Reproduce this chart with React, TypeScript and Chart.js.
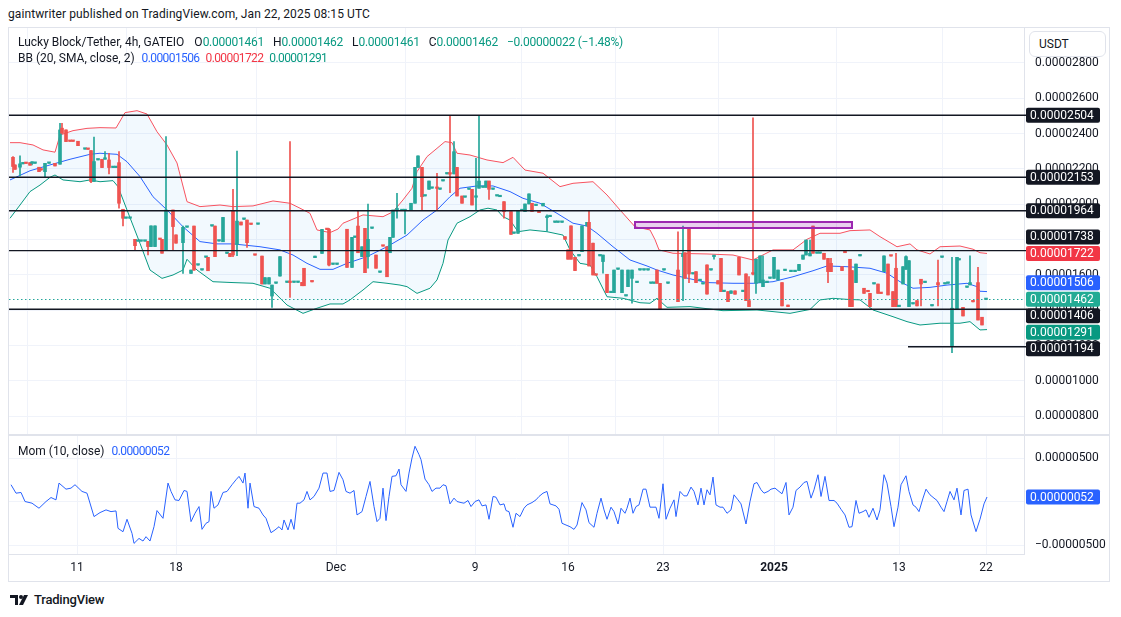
import React, { useEffect, useRef } from "react";
import { Chart, registerables } from "chart.js";
Chart.register(...registerables);

const FONT = "Roboto, 'Noto Sans', Arial, sans-serif";
const UP = "#26a69a";
const DOWN = "#ef5350";
const INK = "#131722";
const GRID = "#f0f3fa";
const BORDER = "#e0e3eb";
const BLUE = "#2962ff";
const RED_LBL = "#f23645";
const TEAL_VAL = "#089981";

// x = bar slot (time position on the chart), prices in units of 1e-8 USDT
const timeTickSlots = [68, 167, 327, 466, 559, 654, 765, 890, 977];
const timeTickLabels = ["11", "18", "Dec", "9", "16", "23", "2025", "13", "22"];
const priceTicks = [800, 1000, 1200, 1400, 1600, 1800, 2000, 2200, 2400, 2600, 2800];
const momTicks = [-500, 0, 500];

// [slot, open, high, low, close]
const candles: number[][] = [
  [4,2266,2270,2180,2214],[6,2223,2223,2198,2198],[11,2210,2274,2161,2229],[14,2229,2229,2229,2229],
  [17,2232,2232,2231,2231],[21,2236,2236,2221,2221],[23,2232,2242,2223,2232],[26,2232,2232,2232,2232],
  [30,2210,2210,2185,2185],[32,2195,2195,2194,2194],[36,2185,2232,2157,2232],[40,2232,2232,2232,2232],
  [46,2232,2232,2217,2217],[51,2227,2459,2227,2421],[53,2431,2459,2402,2402],[57,2421,2421,2355,2355],
  [61,2357,2357,2356,2356],[64,2357,2357,2356,2356],[69,2357,2357,2332,2332],[76,2312,2312,2312,2312],
  [79,2312,2312,2311,2311],[82,2304,2304,2123,2129],[85,2129,2380,2129,2242],[89,2251,2251,2251,2251],
  [93,2255,2255,2208,2208],[96,2255,2299,2255,2255],[100,2251,2289,2172,2208],[104,2208,2208,2208,2208],
  [107,2208,2208,2208,2208],[110,2236,2299,1978,2006],[114,1972,1972,1878,1921],[117,1921,1921,1921,1921],
  [121,1921,1921,1921,1921],[126,1802,1802,1742,1766],[129,1791,1791,1791,1791],[132,1791,1791,1791,1791],
  [136,1791,1791,1791,1791],[139,1791,1791,1714,1761],[142,1761,1878,1761,1878],[146,1761,1878,1761,1878],
  [151,1802,1802,1801,1801],[153,1802,1802,1723,1723],[157,1742,2383,1742,1968],[164,1968,1968,1742,1874],
  [167,1827,1827,1780,1780],
  [174,1783,1877,1609,1870],[178,1870,1870,1870,1870],[182,1609,1628,1609,1628],[185,1877,1877,1626,1628],
  [189,1656,1656,1656,1656],[193,1628,1628,1628,1628],[197,1700,1700,1700,1700],[199,1700,1700,1624,1624],
  [203,1877,1877,1877,1877],[206,1877,1877,1704,1704],[210,1792,1792,1792,1792],[214,1788,1926,1788,1926],
  [218,1722,1722,1722,1722],[221,1722,1722,1704,1704],[224,1964,2085,1704,1713],[228,1773,2302,1709,1905],
  [232,1900,1900,1883,1883],[235,1915,1915,1915,1915],[238,1911,1911,1756,1783],[242,1887,1887,1886,1886],
  [246,1713,1713,1712,1712],[249,1887,1887,1887,1887],[253,1707,1707,1549,1549],[256,1549,1585,1549,1585],
  [260,1549,1585,1549,1585],[263,1481,1543,1417,1543],[267,1553,1553,1553,1553],[271,1594,1704,1594,1704],
  [278,1558,1558,1558,1558],[281,1558,2355,1473,1557],[285,1558,1558,1558,1558],[289,1558,1558,1558,1558],
  [293,1558,1558,1539,1539],[295,1638,1638,1539,1539],[303,1562,1562,1561,1561],[306,1698,1707,1698,1707],
  [313,1722,1858,1722,1858],[318,1858,1858,1857,1857],[320,1858,1864,1651,1656],[324,1660,1660,1660,1660],
  [328,1660,1660,1660,1660],
  [338,1859,1859,1643,1643],[343,1643,1813,1643,1813],[346,1813,1813,1813,1813],[349,1877,1964,1726,1726],
  [353,1704,1760,1704,1760],[356,1864,1864,1613,1613],[359,1704,2002,1638,1802],[363,1864,1864,1864,1864],
  [367,1713,1713,1638,1638],[371,1615,1615,1615,1615],[374,1764,1764,1763,1763],[378,1760,1760,1590,1590],
  [381,1726,1813,1726,1813],[384,1813,1968,1813,1968],[388,1968,2062,1921,1968],[393,1964,1964,1964,1964],
  [396,1964,1964,1832,1964],[402,1964,2006,1964,2006],[406,2006,2209,2006,2209],[409,2209,2274,2209,2274],
  [413,2209,2209,1964,2043],[416,2047,2047,2047,2047],[420,2085,2132,2085,2132],[423,2091,2091,2091,2091],
  [428,2091,2175,1964,2090],[431,2085,2085,2085,2085],[434,2132,2132,2132,2132],[438,2172,2172,2172,2172],
  [441,2172,2500,2066,2171],[445,2172,2355,2172,2298],[448,2209,2209,2047,2047],[453,2047,2047,2006,2006],
  [456,2040,2040,2040,2040],[460,2085,2085,2085,2085],[463,2085,2085,1996,1996],[467,2040,2260,1968,2040],
  [470,2091,2500,2091,2132],[474,2096,2096,2096,2096],[477,2096,2132,2096,2132],[480,2132,2132,2028,2085],
  [484,2085,2085,2085,2085],[488,2047,2047,2047,2047],[491,2043,2043,2043,2043],[495,2015,2015,1921,1958],
  [502,1959,1959,1830,1830],[505,1836,1836,1836,1836],[509,1836,1964,1836,1964],[513,1964,1964,1964,1964],
  [516,1959,2002,1959,2002],[520,2002,2059,2002,2059],[523,2006,2006,1959,1959],[527,1993,1993,1993,1993],
  [530,1963,1963,1953,1953],[534,1991,2006,1991,2006],[538,1925,1940,1846,1925],[541,1930,1930,1930,1930],
  [546,1898,1898,1898,1898],[549,1898,1898,1898,1898],[553,1898,1898,1898,1898],[556,1817,1817,1802,1802],
  [559,1742,1742,1689,1689],[562,1878,1878,1689,1689],[566,1700,1700,1625,1625],[570,1708,1708,1708,1708],
  [573,1732,1878,1732,1878],[578,1878,1898,1878,1898],[580,1898,1964,1651,1651],[584,1780,1780,1600,1600],
  [587,1600,1600,1599,1599],[591,1708,1708,1708,1708],[594,1676,1713,1610,1713],[598,1604,1604,1500,1500],
  [602,1500,1500,1500,1500],[605,1500,1628,1500,1628],[609,1632,1632,1632,1632],[613,1500,1628,1500,1628],
  [617,1481,1481,1481,1481],[619,1534,1628,1534,1628],[623,1581,1628,1440,1628],[628,1557,1557,1557,1557],
  [631,1628,1628,1628,1628],[635,1628,1628,1628,1628],[639,1628,1628,1628,1628],[642,1553,1553,1553,1553],
  [645,1553,1553,1553,1553],[648,1628,1628,1553,1553],[651,1553,1553,1406,1406],[655,1628,1628,1628,1628],
  [659,1553,1553,1553,1553],
  [669,1628,1845,1449,1449],[674,1704,1877,1455,1723],[676,1726,1726,1581,1581],[680,1864,1864,1557,1606],
  [684,1606,1606,1606,1606],[687,1619,1619,1557,1557],[691,1568,1568,1568,1568],[694,1549,1549,1549,1549],
  [698,1657,1657,1492,1492],[702,1628,1628,1628,1628],[705,1704,1704,1689,1704],[709,1568,1568,1549,1549],
  [712,1694,1694,1506,1506],[715,1506,1506,1506,1506],[719,1506,1506,1449,1449],[722,1496,1510,1496,1510],
  [726,1510,1510,1491,1491],[730,1700,1700,1600,1600],[734,1506,1506,1506,1506],[737,1606,1606,1455,1455],
  [740,1455,1591,1421,1421],[744,1606,2489,1600,1605],[747,1553,1689,1496,1689],[751,1557,1708,1557,1708],
  [754,1534,1708,1534,1572],[758,1557,1557,1557,1557],[761,1581,1581,1581,1581],[765,1581,1700,1581,1700],
  [769,1572,1628,1572,1628],[773,1557,1557,1425,1425],[776,1625,1625,1625,1625],[779,1430,1430,1421,1421],
  [782,1619,1619,1619,1619],[786,1619,1619,1619,1619],[790,1625,1660,1625,1660],[794,1689,1713,1689,1713],
  [797,1713,1798,1713,1798],[801,1708,1798,1708,1723],[804,1877,1877,1723,1723],[808,1723,1723,1723,1723],
  [811,1723,1723,1723,1723],[815,1723,1723,1689,1689],[819,1694,1694,1557,1619],[822,1666,1694,1619,1619],
  [833,1647,1647,1625,1625],[836,1727,1727,1726,1726],[841,1689,1689,1421,1421],[843,1625,1625,1421,1421],
  [847,1557,1662,1557,1662],[851,1708,1708,1708,1708],[855,1525,1525,1496,1496],[859,1506,1506,1505,1505],
  [861,1496,1496,1421,1421],[865,1549,1549,1549,1549],[869,1549,1549,1496,1496],[872,1496,1496,1495,1495],
  [875,1619,1708,1619,1708],[879,1662,1662,1487,1487],[882,1708,1708,1707,1707],[884,1506,1506,1421,1421],
  [887,1638,1723,1421,1421],[890,1421,1421,1421,1421],[894,1549,1647,1549,1647],[897,1632,1708,1632,1704],
  [900,1421,1681,1421,1681],[904,1436,1436,1436,1436],[908,1455,1455,1425,1425],[912,1576,1576,1425,1549],
  [916,1557,1557,1557,1557],[923,1425,1425,1425,1425],[929,1557,1685,1425,1544],[933,1700,1700,1700,1700],
  [936,1549,1549,1549,1549],[939,1553,1553,1553,1553],[943,1195,1700,1161,1412],[948,1406,1700,1406,1700],
  [950,1685,1685,1685,1685],[954,1417,1417,1368,1368],[958,1530,1530,1530,1530],[961,1544,1708,1544,1557],
  [964,1449,1449,1448,1448],[969,1557,1644,1345,1345],[973,1361,1361,1317,1317],[977,1461,1462,1461,1462],
];

// Bollinger Bands (20, SMA, close, 2): [slot, value]
const bbUpper: number[][] = [
  [1,2349],[11,2349],[24,2336],[34,2308],[46,2295],[51,2392],[64,2417],[78,2430],[91,2434],[107,2432],
  [116,2519],[128,2530],[138,2511],[148,2411],[158,2336],[168,2234],[178,2015],[191,1987],[211,1996],
  [224,1987],[244,1991],[264,2019],[281,2006],[291,1978],[301,1949],[308,1855],[321,1840],[329,1860],
  [334,1893],[354,1940],[374,1930],[384,1958],[394,2025],[403,2091],[408,2185],[418,2270],[428,2317],
  [436,2355],[443,2349],[448,2289],[461,2279],[478,2251],[494,2236],[504,2266],[516,2194],[534,2176],
  [551,2100],[564,2119],[584,2128],[598,2053],[611,1968],[626,1873],[641,1855],[646,1800],[650,1742],
  [664,1723],[698,1719],[724,1713],[744,1685],[764,1742],[784,1742],[798,1802],[811,1836],[831,1836],
  [841,1851],[861,1855],[871,1817],[888,1760],[901,1776],[908,1742],[921,1719],[931,1760],[951,1764],
  [964,1746],[971,1726],[978,1722],
];
const bbBasis: number[][] = [
  [1,2138],[21,2190],[41,2223],[61,2255],[81,2283],[91,2289],[108,2283],[118,2241],[131,2157],[144,2043],
  [158,1968],[174,1873],[191,1789],[208,1776],[224,1776],[251,1760],[271,1742],[284,1713],[298,1666],
  [311,1632],[324,1632],[338,1666],[358,1704],[378,1760],[398,1826],[414,1911],[428,1968],[441,2043],
  [451,2091],[468,2104],[484,2104],[501,2072],[514,2034],[531,2006],[548,1949],[564,1893],[578,1877],
  [588,1836],[604,1760],[621,1685],[638,1651],[648,1628],[664,1600],[698,1557],[724,1553],[744,1553],
  [764,1562],[784,1590],[804,1624],[818,1651],[838,1647],[861,1638],[878,1610],[891,1562],[904,1525],
  [921,1530],[938,1543],[958,1553],[968,1534],[971,1508],[978,1506],
];
const bbLower: number[][] = [
  [1,1921],[11,1996],[21,2072],[31,2109],[41,2153],[46,2166],[54,2138],[71,2128],[81,2138],[91,2128],
  [104,2134],[109,2100],[118,1968],[131,1779],[141,1628],[153,1581],[164,1600],[174,1628],[178,1689],
  [188,1628],[204,1562],[224,1557],[244,1553],[261,1525],[278,1430],[294,1383],[308,1412],[321,1436],
  [334,1436],[341,1459],[354,1515],[364,1562],[378,1553],[391,1543],[398,1534],[408,1496],[421,1525],
  [428,1572],[434,1666],[439,1798],[448,1893],[461,1930],[471,1968],[479,1978],[488,1968],[494,1930],
  [501,1911],[509,1845],[521,1855],[538,1845],[554,1826],[561,1742],[571,1666],[581,1657],[588,1590],
  [598,1477],[614,1468],[631,1443],[641,1440],[648,1468],[658,1417],[681,1421],[714,1398],[748,1402],
  [781,1383],[801,1405],[811,1459],[824,1468],[838,1462],[851,1459],[864,1402],[884,1364],[898,1336],
  [911,1317],[931,1327],[951,1327],[961,1336],[971,1289],[978,1291],
];

// Momentum (10, close), units of 1e-8: [slot, value]
const momentum: number[][] = [
  [2,193],[7,96],[12,104],[16,0],[23,-19],[30,-77],[37,0],[42,46],[47,19],[50,212],[57,142],[62,154],[66,193],
  [73,116],[78,96],[85,-173],[91,-127],[97,-96],[102,-116],[107,-108],[109,-308],[114,-347],[118,-204],
  [123,-366],[125,-481],[130,-424],[134,-454],[137,-404],[141,-454],[145,-289],[148,-104],[154,-193],
  [159,212],[162,116],[166,19],[170,12],[175,127],[178,116],[182,-231],[186,-135],[190,-58],[193,-320],
  [197,-250],[200,-231],[202,116],[205,-77],[209,-39],[214,104],[218,116],[223,193],[227,250],[230,289],
  [234,212],[236,327],[239,-77],[241,212],[245,-58],[250,-77],[254,-154],[257,-193],[262,-358],[266,-327],
  [270,-289],[273,-327],[275,-212],[279,-327],[282,-204],[285,-320],[288,-19],[291,-19],[295,19],[298,116],
  [301,19],[305,58],[310,154],[314,327],[318,327],[321,116],[325,127],[330,335],[334,250],[337,116],[341,96],
  [345,127],[348,-154],[353,-116],[357,58],[361,231],[365,-58],[368,-231],[371,-193],[374,154],[377,-219],
  [380,58],[383,289],[387,296],[390,373],[392,193],[397,116],[400,327],[403,500],[406,635],[410,539],
  [412,481],[416,258],[420,193],[423,116],[427,154],[431,154],[434,193],[437,181],[441,-27],[445,39],
  [448,0],[452,-12],[455,-19],[459,12],[462,-58],[466,0],[470,19],[473,-50],[477,-39],[480,-204],[484,58],
  [487,50],[491,-39],[495,-27],[497,-104],[500,-116],[504,-296],[507,-135],[511,-173],[515,-77],[518,-39],
  [523,-12],[527,19],[530,58],[534,96],[538,116],[541,-27],[547,-50],[550,-89],[553,-250],[557,-270],
  [561,-289],[565,-320],[568,-270],[573,-12],[577,-96],[580,-243],[585,-296],[588,-135],[592,39],[595,-96],
  [598,-204],[602,-65],[605,-116],[609,-258],[612,-77],[616,-135],[618,-77],[621,39],[624,-135],[627,-58],
  [630,-39],[634,142],[637,142],[641,-65],[647,-65],[650,-193],[654,204],[657,-204],[661,-77],[665,19],
  [667,-173],[671,116],[675,65],[678,65],[682,166],[685,116],[689,-39],[692,154],[695,-39],[698,135],
  [701,77],[704,281],[707,-39],[711,-65],[714,-65],[718,-135],[722,-96],[725,77],[729,19],[732,-27],
  [737,-258],[741,0],[745,204],[748,219],[752,135],[755,96],[759,116],[762,142],[766,154],[770,116],
  [773,89],[777,219],[780,-154],[784,-65],[787,127],[791,166],[795,219],[798,231],[802,39],[805,135],
  [809,308],[812,58],[816,289],[820,12],[825,12],[828,-19],[832,-89],[836,-154],[840,-296],[843,-289],
  [847,12],[850,-135],[854,-116],[857,-96],[860,-181],[864,-77],[868,-212],[871,-96],[875,308],[878,212],
  [882,-58],[885,-289],[889,-65],[892,193],[897,296],[900,116],[904,-39],[907,-65],[910,-116],[914,39],
  [917,142],[921,77],[925,39],[928,12],[932,-65],[935,-116],[938,0],[941,116],[945,19],[948,154],[952,-154],
  [955,127],[959,142],[962,-154],[967,-346],[971,-204],[975,-27],[978,52],
];

// Drawn horizontal levels and the zone
const levelLines = [2504, 2153, 1964, 1738, 1406];
const supportLevel = 1194;
const supportFromSlot = 899;
const zoneSlots = [626, 843];
const zonePrices = [1866, 1900];

// Last values
const lastOHLC = [1461, 1462, 1461, 1462];
const lastChange = -22;
const lastChangePct = -1.48;
const lastBasis = 1506;
const lastUpper = 1722;
const lastLower = 1291;
const lastMom = 52;

const fmt = (v: number) => (v < 0 ? "\u2212" : "") + (Math.abs(v) / 1e8).toFixed(8);

function drawBox(ctx: CanvasRenderingContext2D, x: number, y: number, w: number, h: number, bg: string, text: string) {
  ctx.fillStyle = bg;
  ctx.beginPath();
  if ((ctx as any).roundRect) (ctx as any).roundRect(x, y - h / 2, w, h, 2);
  else ctx.rect(x, y - h / 2, w, h);
  ctx.fill();
  ctx.fillStyle = "#ffffff";
  ctx.font = `12px ${FONT}`;
  ctx.textAlign = "left";
  ctx.textBaseline = "middle";
  ctx.fillText(text, x + 4, y + 0.5);
}

const zeroVPad = (s: any) => { s.paddingTop = 0; s.paddingBottom = 0; };
const zeroHPad = (s: any) => { s.paddingLeft = 0; s.paddingRight = 0; };

const mainOverlay = {
  id: "mainOverlay",
  afterDatasetsDraw(chart: any) {
    const { ctx, chartArea, scales } = chart;
    const xs = scales.x, ys = scales.y;
    ctx.save();
    const zx0 = xs.getPixelForValue(zoneSlots[0]);
    const zx1 = xs.getPixelForValue(zoneSlots[1]);
    const zy0 = ys.getPixelForValue(zonePrices[1]);
    const zy1 = ys.getPixelForValue(zonePrices[0]);
    ctx.fillStyle = "rgba(156,39,176,0.22)";
    ctx.fillRect(zx0, zy0, zx1 - zx0, zy1 - zy0);
    ctx.strokeStyle = "#9c27b0";
    ctx.lineWidth = 2;
    ctx.strokeRect(zx0, zy0, zx1 - zx0, zy1 - zy0);
    ctx.strokeStyle = INK;
    ctx.lineWidth = 1.4;
    levelLines.forEach((p) => {
      const y = ys.getPixelForValue(p);
      ctx.beginPath();
      ctx.moveTo(chartArea.left, y);
      ctx.lineTo(chartArea.right + 3, y);
      ctx.stroke();
    });
    const sy = ys.getPixelForValue(supportLevel);
    ctx.beginPath();
    ctx.moveTo(xs.getPixelForValue(supportFromSlot), sy);
    ctx.lineTo(chartArea.right + 3, sy);
    ctx.stroke();
    const cy = Math.round(ys.getPixelForValue(lastOHLC[3])) + 0.5;
    ctx.strokeStyle = UP;
    ctx.lineWidth = 1;
    ctx.setLineDash([1.5, 2.5]);
    ctx.beginPath();
    ctx.moveTo(chartArea.left, cy);
    ctx.lineTo(chartArea.right, cy);
    ctx.stroke();
    ctx.restore();
  },
  afterDraw(chart: any) {
    const { ctx, chartArea, scales } = chart;
    const ys = scales.y;
    const labels = [
      ...levelLines.map((v) => ({ v, bg: INK, pin: false })),
      { v: supportLevel, bg: INK, pin: false },
      { v: lastUpper, bg: RED_LBL, pin: true },
      { v: lastBasis, bg: BLUE, pin: false },
      { v: lastOHLC[3], bg: "#22ab94", pin: true },
      { v: lastLower, bg: TEAL_VAL, pin: false },
    ].map((l) => ({ ...l, y: ys.getPixelForValue(l.v) }));
    labels.sort((a, b) => a.y - b.y);
    const H = 16.5;
    for (let it = 0; it < 200; it++) {
      for (let i = 1; i < labels.length; i++) {
        const a = labels[i - 1], b = labels[i];
        const ov = H - (b.y - a.y);
        if (ov > 0.01) {
          if (a.pin && b.pin) continue;
          if (a.pin) b.y += ov;
          else if (b.pin) a.y -= ov;
          else { a.y -= ov / 2; b.y += ov / 2; }
        }
      }
    }
    ctx.save();
    labels.forEach((l) => drawBox(ctx, chartArea.right + 2, l.y, 74, 15, l.bg, fmt(l.v)));
    ctx.restore();
  },
};

const momOverlay = {
  id: "momOverlay",
  afterDraw(chart: any) {
    const { ctx, chartArea, scales } = chart;
    ctx.save();
    drawBox(ctx, chartArea.right + 2, scales.y.getPixelForValue(lastMom), 74, 15, BLUE, fmt(lastMom));
    ctx.restore();
  },
};

const candleColor = (ctx: any) => (ctx.raw && ctx.raw.up ? UP : DOWN);

function mainConfig(): any {
  return {
    type: "bar",
    data: {
      datasets: [
        {
          type: "bar",
          data: candles.map(([s, o, , , c]) => ({ x: s, y: [o, c], up: c >= o })),
          backgroundColor: candleColor,
          barThickness: 3,
          minBarLength: 1.5,
          grouped: false,
          order: 0,
        },
        {
          type: "bar",
          data: candles.map(([s, o, h, l, c]) => ({ x: s, y: [l, h], up: c >= o })),
          backgroundColor: candleColor,
          barThickness: 1,
          grouped: false,
          order: 1,
        },
        {
          type: "line",
          data: bbUpper.map(([x, y]) => ({ x, y })),
          borderColor: "#f7525f",
          borderWidth: 1,
          pointRadius: 0,
          fill: 4,
          backgroundColor: "rgba(33,150,243,0.06)",
          order: 3,
        },
        {
          type: "line",
          data: bbBasis.map(([x, y]) => ({ x, y })),
          borderColor: BLUE,
          borderWidth: 1,
          pointRadius: 0,
          fill: false,
          order: 2,
        },
        {
          type: "line",
          data: bbLower.map(([x, y]) => ({ x, y })),
          borderColor: TEAL_VAL,
          borderWidth: 1,
          pointRadius: 0,
          fill: false,
          order: 2,
        },
      ],
    },
    options: {
      responsive: false,
      animation: false,
      events: [],
      layout: { padding: 0 },
      plugins: { legend: { display: false }, tooltip: { enabled: false } },
      scales: {
        x: {
          type: "linear",
          min: 0,
          max: 1015,
          offset: false,
          ticks: { display: false },
          grid: { color: GRID, drawTicks: false },
          border: { display: false },
          afterBuildTicks: (s: any) => { s.ticks = timeTickSlots.map((v) => ({ value: v })); },
          afterFit: (s: any) => { s.height = 0; zeroHPad(s); },
        },
        y: {
          type: "linear",
          position: "right",
          min: 700,
          max: 2998,
          afterBuildTicks: (s: any) => { s.ticks = priceTicks.map((v) => ({ value: v })); },
          ticks: { callback: (v: any) => fmt(Number(v)), color: INK, font: { size: 12, family: FONT }, padding: 11 },
          grid: { color: GRID, drawTicks: false },
          border: { color: BORDER },
          afterFit: (s: any) => { s.width = 86; zeroVPad(s); },
        },
      },
    },
    plugins: [mainOverlay],
  };
}

function momConfig(): any {
  return {
    type: "line",
    data: {
      datasets: [
        {
          data: momentum.map(([x, y]) => ({ x, y })),
          borderColor: BLUE,
          borderWidth: 1,
          pointRadius: 0,
          fill: false,
        },
      ],
    },
    options: {
      responsive: false,
      animation: false,
      events: [],
      layout: { padding: 0 },
      plugins: { legend: { display: false }, tooltip: { enabled: false } },
      scales: {
        x: {
          type: "linear",
          min: 0,
          max: 1015,
          offset: false,
          afterBuildTicks: (s: any) => { s.ticks = timeTickSlots.map((v) => ({ value: v })); },
          ticks: {
            autoSkip: false,
            maxRotation: 0,
            padding: 7,
            color: INK,
            callback: (v: any) => timeTickLabels[timeTickSlots.indexOf(Number(v))] ?? "",
            font: (c: any) => ({
              size: 12,
              family: FONT,
              weight: c.tick && timeTickLabels[timeTickSlots.indexOf(c.tick.value)] === "2025" ? "bold" : "normal",
            }),
          },
          grid: { color: GRID, drawTicks: false },
          border: { color: BORDER },
          afterFit: (s: any) => { s.height = 28; zeroHPad(s); },
        },
        y: {
          type: "linear",
          position: "right",
          min: -603,
          max: 753,
          afterBuildTicks: (s: any) => { s.ticks = momTicks.map((v) => ({ value: v })); },
          ticks: { callback: (v: any) => (Number(v) === 0 ? "" : fmt(Number(v))), color: INK, font: { size: 12, family: FONT }, padding: 11 },
          grid: { color: GRID, drawTicks: false },
          border: { color: BORDER },
          afterFit: (s: any) => { s.width = 86; zeroVPad(s); },
        },
      },
    },
    plugins: [momOverlay],
  };
}

export default function App() {
  const mainRef = useRef<HTMLCanvasElement>(null);
  const momRef = useRef<HTMLCanvasElement>(null);

  useEffect(() => {
    Chart.defaults.font.family = FONT;
    const c1 = new Chart(mainRef.current as HTMLCanvasElement, mainConfig());
    const c2 = new Chart(momRef.current as HTMLCanvasElement, momConfig());
    return () => {
      c1.destroy();
      c2.destroy();
    };
  }, []);

  const num = { color: TEAL_VAL, letterSpacing: -0.25 };
  const gap = { marginLeft: 9 };
  return (
    <div style={{ position: "fixed", left: 0, top: 0, width: 1121, height: 617, background: "#fff", fontFamily: FONT, color: INK, overflow: "hidden" }}>
      <div style={{ position: "absolute", left: 8, top: 7, fontSize: 12, whiteSpace: "pre", letterSpacing: 0.1 }}>
        gaintwriter published on TradingView.com, Jan 22, 2025 08:15 UTC
      </div>
      <div style={{ position: "absolute", left: 8, top: 27, width: 1102, height: 555, border: `1px solid ${BORDER}`, boxSizing: "border-box" }} />
      <canvas ref={mainRef} width={1101} height={406} style={{ position: "absolute", left: 9, top: 28, width: 1101, height: 406 }} />
      <div style={{ position: "absolute", left: 9, top: 434, width: 1101, height: 2, background: BORDER }} />
      <canvas ref={momRef} width={1101} height={146} style={{ position: "absolute", left: 9, top: 436, width: 1101, height: 146 }} />

      <div style={{ position: "absolute", left: 18, top: 34, fontSize: 12, whiteSpace: "pre", lineHeight: "16px" }}>
        <span>Lucky Block/Tether, 4h, GATEIO</span>
        <span style={{ marginLeft: 10 }}>O</span><span style={num}>{fmt(lastOHLC[0])}</span>
        <span style={gap}>H</span><span style={num}>{fmt(lastOHLC[1])}</span>
        <span style={gap}>L</span><span style={num}>{fmt(lastOHLC[2])}</span>
        <span style={gap}>C</span><span style={num}>{fmt(lastOHLC[3])}</span>
        <span style={{ ...num, marginLeft: 9 }}>{fmt(lastChange)} ({"\u2212"}{Math.abs(lastChangePct).toFixed(2)}%)</span>
      </div>
      <div style={{ position: "absolute", left: 18, top: 50, fontSize: 12, whiteSpace: "pre", lineHeight: "16px" }}>
        <span>BB (20, SMA, close, 2)</span>
        <span style={{ color: BLUE, marginLeft: 7, letterSpacing: -0.6 }}>{fmt(lastBasis)}</span>
        <span style={{ color: RED_LBL, marginLeft: 6, letterSpacing: -0.6 }}>{fmt(lastUpper)}</span>
        <span style={{ color: TEAL_VAL, marginLeft: 6, letterSpacing: -0.6 }}>{fmt(lastLower)}</span>
      </div>
      <div style={{ position: "absolute", left: 18, top: 443, fontSize: 12, whiteSpace: "pre", lineHeight: "16px" }}>
        <span>Mom (10, close)</span>
        <span style={{ color: BLUE, marginLeft: 7, letterSpacing: -0.6 }}>{fmt(lastMom)}</span>
      </div>

      <div style={{ position: "absolute", left: 1029, top: 31, width: 77, height: 26, border: `1px solid ${BORDER}`, borderRadius: 6, boxSizing: "border-box", background: "#fff", fontSize: 12, lineHeight: "24px", paddingLeft: 9 }}>
        USDT
      </div>

      <div style={{ position: "absolute", left: 10, top: 592, display: "flex", alignItems: "center", gap: 3 }}>
        <svg width="21" height="14" viewBox="0 0 21 14">
          <path d="M0 2h8v10H5V5H0z" fill={INK} />
          <circle cx="11" cy="4" r="2" fill={INK} />
          <path d="M14 2h4l-5 10H9z" fill={INK} />
        </svg>
        <span style={{ fontSize: 13, fontWeight: 500, letterSpacing: -0.2 }}>TradingView</span>
      </div>
    </div>
  );
}
